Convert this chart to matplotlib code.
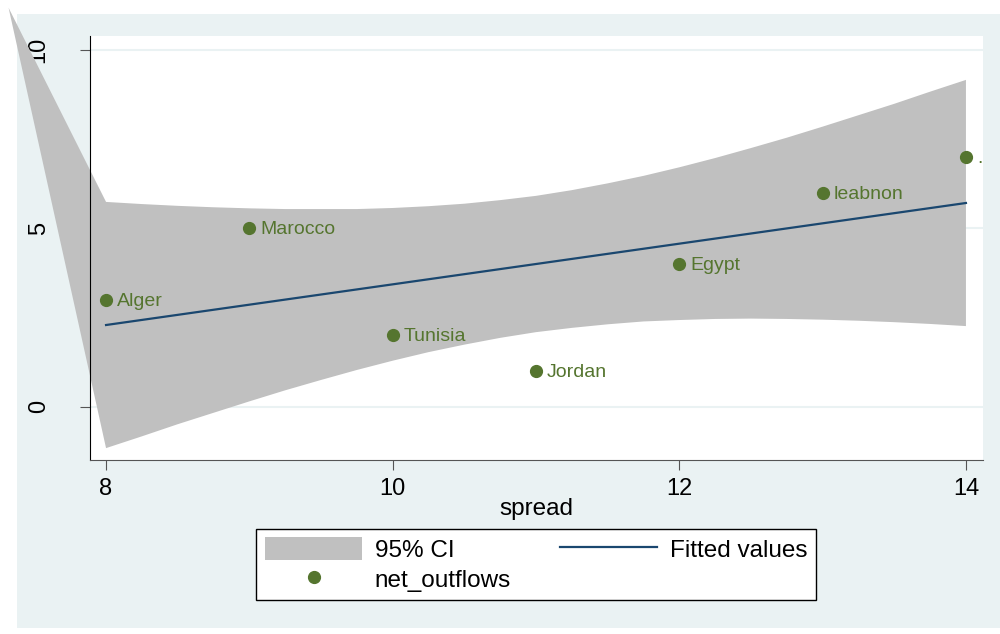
import matplotlib
matplotlib.use("Agg")
import matplotlib.pyplot as plt
from matplotlib.patches import Patch, Rectangle
from matplotlib.lines import Line2D

plt.rcParams['font.family'] = ['Liberation Sans', 'DejaVu Sans']

# observed points
spread = [8, 9, 10, 11, 12, 13, 14]
net_outflows = [3, 5, 2, 1, 4, 6, 7]
country = ["Alger", "Marocco", "Tunisia", "Jordan", "Egypt", "leabnon", "."]

# fitted line
fit_x = [8, 14]
fit_y = [2.29, 5.71]

# 95% CI band
ci_x = [8, 8.25, 8.5, 8.75, 9, 9.25, 9.5, 9.75, 10, 10.25, 10.5, 10.75, 11,
        11.25, 11.5, 11.75, 12, 12.25, 12.5, 12.75, 13, 13.25, 13.5, 13.75, 14]
ci_upper = [5.74, 5.68, 5.63, 5.59, 5.56, 5.54, 5.54, 5.54, 5.57, 5.62, 5.69, 5.79, 5.91,
            6.07, 6.26, 6.47, 6.71, 6.97, 7.25, 7.54, 7.85, 8.17, 8.49, 8.83, 9.16]
ci_lower = [-1.16, -0.83, -0.49, -0.17, 0.15, 0.46, 0.75, 1.03, 1.29, 1.53, 1.74, 1.93, 2.09,
            2.21, 2.31, 2.39, 2.43, 2.46, 2.47, 2.46, 2.44, 2.41, 2.37, 2.32, 2.26]
# stray vertex of the band polygon (drawn outside the plot region)
ci_stray_x = 7.32
ci_stray_y = 11.18

bg = '#EAF2F3'
green = '#55752F'
navy = '#1A476F'
gray = '#C0C0C0'

fig = plt.figure(figsize=(10, 6.34), dpi=100)
fig.patch.set_facecolor('white')
fig.patches.append(Rectangle((0.017, 0.0095), 0.983, 0.969, transform=fig.transFigure,
                             facecolor=bg, edgecolor='none', zorder=-5))

ax = fig.add_axes([0.09, 0.2744, 0.893, 0.6688])
ax.set_facecolor('white')

poly_x = [ci_stray_x] + ci_x + ci_x[::-1]
poly_y = [ci_stray_y] + ci_upper + ci_lower[::-1]
ax.fill(poly_x, poly_y, color=gray, lw=0, clip_on=False, zorder=2)

ax.plot(fit_x, fit_y, color=navy, lw=1.6, zorder=3)
ax.plot(spread, net_outflows, 'o', color=green, ms=8.5, zorder=4)
for xx, yy, name in zip(spread, net_outflows, country):
    ax.annotate(name, (xx, yy), xytext=(8, -1), textcoords='offset points',
                va='center', ha='left', color=green, fontsize=14, zorder=5)

ax.set_xlim(7.888, 14.119)
ax.set_ylim(-1.494, 10.39)
ax.set_xticks([8, 10, 12, 14])
ax.set_yticks([0, 5, 10])
ax.yaxis.grid(True, color=bg, lw=1.5)
ax.set_axisbelow(True)
for s in ['top', 'right']:
    ax.spines[s].set_visible(False)
ax.spines['left'].set_color('black')
ax.spines['bottom'].set_color('#555555')
ax.tick_params(axis='x', length=7, color='#555555', labelsize=17, pad=6)
ax.tick_params(axis='y', length=7, color='#555555', labelsize=17, pad=22)
for lab in ax.get_yticklabels():
    lab.set_rotation(90)
    lab.set_va('center')
ax.set_xlabel('spread', fontsize=17.5, labelpad=-1.5)

handles = [Patch(facecolor=gray, edgecolor='none'),
           Line2D([], [], ls='', marker='o', color=green, ms=8.5),
           Line2D([], [], color=navy, lw=1.6)]
labels = ['95% CI', 'net_outflows', 'Fitted values']
leg = fig.legend(handles, labels, ncol=2, loc='center', bbox_to_anchor=(0.536, 0.1096),
                 fontsize=17.5, frameon=True, fancybox=False, edgecolor='black',
                 facecolor='white', framealpha=1,
                 handlelength=4.0, handleheight=1.1, handletextpad=0.52,
                 columnspacing=2.0, borderpad=0.35, labelspacing=0.2)
leg.get_frame().set_linewidth(1.0)

fig.savefig('out.png', dpi=100)
